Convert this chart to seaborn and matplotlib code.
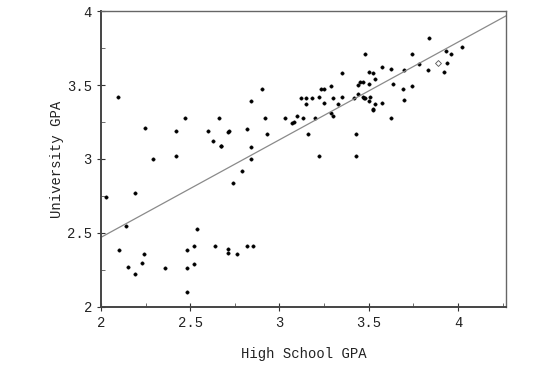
import numpy as np
import pandas as pd
import matplotlib
matplotlib.use("Agg")
import matplotlib.pyplot as plt
import seaborn as sns
from matplotlib.ticker import MultipleLocator

# high school GPA / university GPA
hs_gpa = [
    2.095, 2.245, 2.29, 2.42, 2.42, 2.47, 2.60, 2.63, 2.66, 2.67, 2.675, 2.71,
    2.72, 2.82, 2.84, 2.84, 2.84, 2.90, 2.92, 2.93, 3.03, 3.07, 3.08, 3.10,
    3.12, 3.13, 3.15, 3.15, 3.16, 3.18, 3.20, 3.22, 3.23, 3.25, 3.25, 3.29,
    3.30, 3.29, 3.30, 3.33, 3.35, 3.35, 3.22, 3.43, 3.43, 3.42, 3.44, 3.44,
    3.45, 3.47, 3.47, 3.475, 3.48, 3.48, 3.50, 3.50, 3.50, 3.505, 3.525, 3.535,
    3.535, 3.525, 3.525, 3.575, 3.575, 3.625, 3.635, 3.625, 3.69, 3.70, 3.70,
    3.74, 3.74, 3.78, 3.83, 3.84, 3.92, 3.93, 3.94, 3.96, 4.02,
    2.79, 2.74, 2.03, 2.19, 2.14, 2.54, 2.10, 2.24, 2.23, 2.15, 2.19, 2.36,
    2.48, 2.52, 2.48, 2.52, 2.48, 2.64, 2.71, 2.71, 2.76, 2.82, 2.85,
]
uni_gpa = [
    3.42, 3.21, 3.00, 3.19, 3.02, 3.28, 3.19, 3.12, 3.28, 3.09, 3.09, 3.18,
    3.19, 3.20, 3.39, 3.08, 3.00, 3.47, 3.28, 3.17, 3.28, 3.24, 3.25, 3.29,
    3.41, 3.28, 3.41, 3.37, 3.17, 3.41, 3.28, 3.42, 3.47, 3.47, 3.38, 3.49,
    3.41, 3.31, 3.29, 3.37, 3.58, 3.42, 3.02, 3.17, 3.02, 3.41, 3.50, 3.44,
    3.52, 3.52, 3.42, 3.415, 3.41, 3.71, 3.59, 3.51, 3.39, 3.42, 3.58, 3.54,
    3.37, 3.34, 3.33, 3.62, 3.38, 3.61, 3.51, 3.28, 3.47, 3.60, 3.40,
    3.71, 3.49, 3.64, 3.60, 3.82, 3.59, 3.73, 3.65, 3.71, 3.76,
    2.92, 2.84, 2.745, 2.77, 2.55, 2.53, 2.385, 2.36, 2.30, 2.27, 2.225, 2.26,
    2.385, 2.41, 2.26, 2.29, 2.10, 2.41, 2.39, 2.365, 2.36, 2.41, 2.41,
]
# one student drawn with an open marker
open_hs = [3.89]
open_uni = [3.65]

# fitted line: uni = intercept + slope * hs
intercept = 1.15
slope = 0.66

df = pd.DataFrame({"hs": hs_gpa, "uni": uni_gpa})

sns.set_style("ticks")
plt.rcParams["font.family"] = ["Liberation Mono", "DejaVu Sans"]

fig = plt.figure(figsize=(5.34, 3.68), dpi=100)
ax = fig.add_axes([0.189, 0.166, 0.759, 0.804])

sns.scatterplot(data=df, x="hs", y="uni", ax=ax, color="black", s=6,
                marker="o", edgecolor="black", linewidth=0.3)
ax.scatter(open_hs, open_uni, s=9, marker="D", facecolor="white",
           edgecolor="#555555", linewidth=0.6, zorder=3)

ax.set_xlim(2, 4.27)
ax.set_ylim(2, 4)
xs = np.array(ax.get_xlim())
ax.plot(xs, intercept + slope * xs, color="#8a8a8a", linewidth=0.9, zorder=1)

ax.xaxis.set_major_locator(MultipleLocator(0.5))
ax.xaxis.set_minor_locator(MultipleLocator(0.25))
ax.yaxis.set_major_locator(MultipleLocator(0.5))
ax.yaxis.set_minor_locator(MultipleLocator(0.25))
ax.xaxis.set_major_formatter(plt.FuncFormatter(lambda v, p: f"{v:g}"))
ax.yaxis.set_major_formatter(plt.FuncFormatter(lambda v, p: f"{v:g}"))
ax.tick_params(which="major", direction="inout", length=6, width=0.8,
               colors="#333333", labelsize=10, labelcolor="#222222")
ax.tick_params(which="minor", direction="in", length=3, width=0.6,
               colors="#555555")

for side in ["left", "bottom"]:
    ax.spines[side].set_linewidth(1.4)
    ax.spines[side].set_color("#444444")
for side in ["top", "right"]:
    ax.spines[side].set_linewidth(1.0)
    ax.spines[side].set_color("#666666")

ax.set_xlabel("High School GPA", fontsize=10, color="#222222", labelpad=12)
ax.set_ylabel("University GPA", fontsize=10, color="#222222", labelpad=2)

fig.savefig("out.png", dpi=100)
